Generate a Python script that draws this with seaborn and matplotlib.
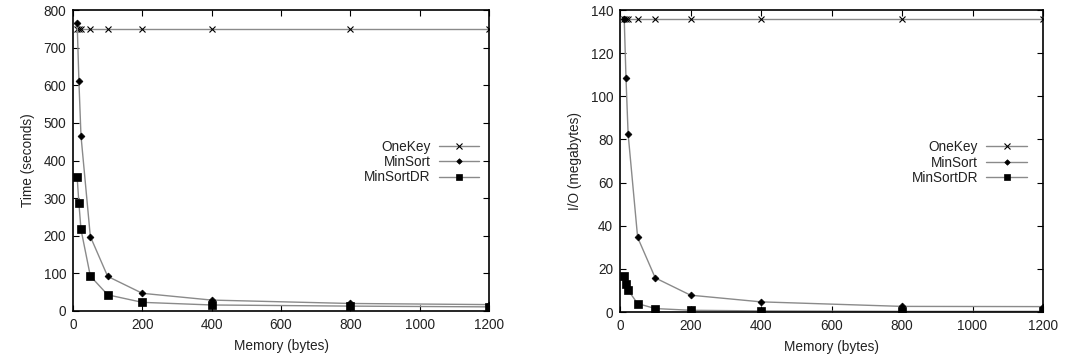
import matplotlib
matplotlib.use("Agg")
import matplotlib.pyplot as plt
import seaborn as sns
import pandas as pd

memory = [12, 17, 23, 50, 100, 200, 400, 800, 1200]

time_onekey = [750, 750, 750, 750, 750, 750, 750, 750, 750]
time_minsort = [765, 612, 466, 198, 92, 47, 29, 20, 17]
time_minsortdr = [355, 287, 217, 93, 43, 23, 16, 13, 11]

io_onekey = [136, 136, 136, 136, 136, 136, 136, 136, 136]
io_minsort = [136, 108.4, 82.6, 34.6, 15.8, 7.8, 4.7, 2.6, 2.5]
io_minsortdr = [16.6, 13.2, 10.1, 3.9, 1.6, 0.8, 0.5, 0.3, 0.3]

series_names = ["OneKey", "MinSort", "MinSortDR"]
markers = {"OneKey": "x", "MinSort": "D", "MinSortDR": "s"}
msizes = {"OneKey": 5, "MinSort": 3.5, "MinSortDR": 5.5}

sns.set_style("ticks")
plt.rcParams["font.family"] = ["Liberation Sans", "DejaVu Sans"]
plt.rcParams["text.color"] = "#222222"
plt.rcParams["axes.labelcolor"] = "#222222"

fig = plt.figure(figsize=(10.65, 3.62), dpi=100)
ax1 = fig.add_axes([73 / 1065, 1 - 311 / 362, 416 / 1065, 301 / 362])
ax2 = fig.add_axes([620 / 1065, 1 - 312 / 362, 423 / 1065, 302 / 362])

FS = 9.8


def draw(ax, vals, ylabel, ymax, ystep, legend_x):
    for name, v in zip(series_names, vals):
        df = pd.DataFrame({"x": memory, "y": v})
        sns.lineplot(data=df, x="x", y="y", ax=ax, color="#8a8a8a", lw=1.0,
                     marker=markers[name], markersize=msizes[name],
                     markerfacecolor="black", markeredgecolor="black",
                     markeredgewidth=0.8 if name == "OneKey" else 0.5,
                     label=name)
    ax.set_xlim(0, 1200)
    ax.set_ylim(0, ymax)
    ax.set_xticks(range(0, 1201, 200))
    ax.set_yticks(range(0, ymax + 1, ystep))
    ax.tick_params(direction="in", top=True, right=True, length=4, width=0.8,
                   labelsize=FS, colors="black", labelcolor="#222222", pad=5)
    for s in ax.spines.values():
        s.set_linewidth(1.2)
        s.set_color("black")
    ax.set_xlabel("Memory (bytes)", fontsize=FS, labelpad=5)
    ax.set_ylabel(ylabel, fontsize=FS, labelpad=6)
    ax.legend(loc="center right", bbox_to_anchor=(legend_x, 0.495), frameon=False,
              markerfirst=False, fontsize=FS, handlelength=3.0, handletextpad=0.6,
              labelspacing=0.1, borderaxespad=0, labelcolor="#222222",
              markerscale=0.8)


draw(ax1, [time_onekey, time_minsort, time_minsortdr], "Time (seconds)", 800, 100, 0.99)
draw(ax2, [io_onekey, io_minsort, io_minsortdr], "I/O (megabytes)", 140, 20, 0.975)

fig.savefig("out.png", dpi=100)
